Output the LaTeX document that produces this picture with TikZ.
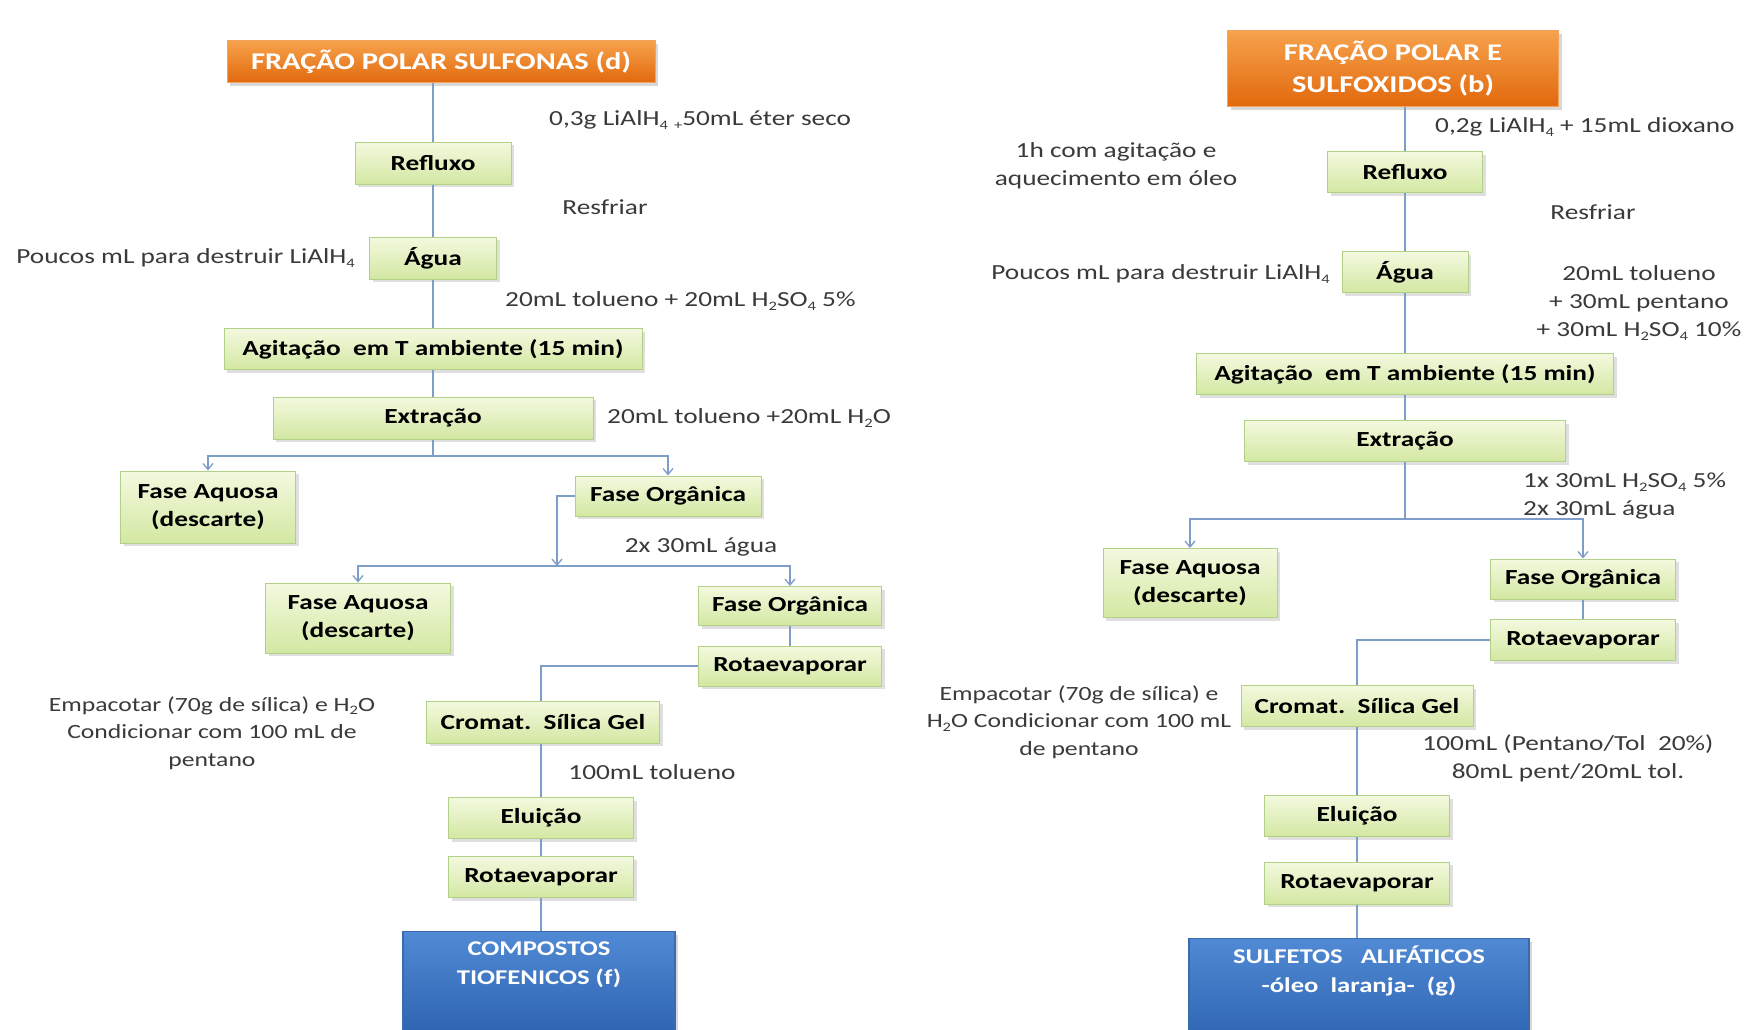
\documentclass[tikz,border=0pt]{standalone}
\usepackage{fontspec}
\setmainfont{Carlito}[FakeStretch=1.27]
\usetikzlibrary{arrows.meta,shadows}

\definecolor{gtop}{HTML}{F3F9DF}
\definecolor{gbot}{HTML}{D3E8A2}
\definecolor{gline}{HTML}{B3D089}
\definecolor{otop}{HTML}{F6A24C}
\definecolor{obot}{HTML}{E2680C}
\definecolor{oline}{HTML}{F1A45E}
\definecolor{btop}{HTML}{5089D4}
\definecolor{bbot}{HTML}{2C62B0}
\definecolor{bline}{HTML}{3A6BAE}
\definecolor{linkc}{HTML}{7F9DC9}
\definecolor{notec}{HTML}{3A3A3A}

% lowered small index for chemical formulas
\newcommand\chemidx[1]{\raisebox{-0.35ex}{\fontsize{13}{13}\selectfont #1}}

\begin{document}
\begin{tikzpicture}[x=1pt,y=-1pt,
  font=\fontsize{21.5}{28}\selectfont,
  gbox/.style={draw=gline, line width=1pt, top color=gtop, bottom color=gbot,
    inner sep=0pt, align=center, text=black, font=\fontsize{21.5}{28}\selectfont\bfseries,
    drop shadow={shadow xshift=3pt, shadow yshift=-3pt, opacity=0.25}},
  obox/.style={draw=oline, line width=1pt, top color=otop, bottom color=obot,
    inner sep=0pt, align=center, text=white, font=\fontsize{24}{32}\selectfont\bfseries,
    drop shadow={shadow xshift=3pt, shadow yshift=-3pt, opacity=0.3}},
  bbox/.style={draw=bline, line width=1.2pt, top color=btop, bottom color=bbot,
    inner sep=0pt, drop shadow={shadow xshift=3pt, shadow yshift=-3pt, opacity=0.3}},
  btext/.style={text=white, align=center, inner sep=0pt, font=\fontsize{21}{29}\selectfont\bfseries},
  note/.style={text=notec, align=center, inner sep=0pt},
  packnote/.style={note, font=\fontsize{20.2}{27.3}\selectfont},
  link/.style={draw=linkc, line width=1.3pt},
  arr/.style={link, -{Straight Barb[length=6pt,width=10pt]}}]

\useasboundingbox (0,0) rectangle (1747,1030);
\fill[white] (0,0) rectangle (1747,1030);

% ---------------- left flow: sulfonas ----------------
\node[obox, minimum width=428, minimum height=42] (t1) at (441,62) {FRAÇÃO POLAR SULFONAS (d)};
\node[note, anchor=west] (n1) at (549,120) {0,3g LiAlH\chemidx{4} \chemidx{+}50mL éter seco};
\node[gbox, minimum width=156, minimum height=42] (ref1) at (433,163) {Refluxo};
\node[note] (res1) at (605,207) {Resfriar};
\node[note, anchor=east] (pou1) at (355,258) {Poucos mL para destruir LiAlH\chemidx{4}};
\node[gbox, minimum width=127, minimum height=42] (agu1) at (433,258) {Água};
\node[note, anchor=west] (tol1) at (505,301) {20mL tolueno + 20mL H\chemidx{2}SO\chemidx{4} 5\%};
\node[gbox, minimum width=418, minimum height=41] (agi1) at (433,349) {Agitação\ \ em T ambiente (15 min)};
\node[gbox, minimum width=320, minimum height=42] (ext1) at (433,418) {Extração};
\node[note, anchor=west] (tol1b) at (607,418) {20mL tolueno +20mL H\chemidx{2}O};
\coordinate (b1) at (433,456);
\node[gbox, minimum width=175, minimum height=72] (fa1) at (208,507) {Fase Aquosa\\(descarte)};
\node[gbox, minimum width=186, minimum height=40] (fo1) at (668,496) {Fase Orgânica};
\coordinate (b2) at (557,566);
\node[note] (wash1) at (701,547) {2x 30mL água};
\node[gbox, minimum width=185, minimum height=70] (fa2) at (358,618) {Fase Aquosa\\(descarte)};
\node[gbox, minimum width=183, minimum height=39] (fo2) at (790,606) {Fase Orgânica};
\node[gbox, minimum width=183, minimum height=40] (rot1) at (790,666) {Rotaevaporar};
\node[gbox, minimum width=233, minimum height=42] (crom1) at (543,722) {Cromat.\ \ Sílica Gel};
\node[packnote] (emp1) at (212,733) {Empacotar (70g de sílica) e H\chemidx{2}O\\Condicionar com 100 mL de\\pentano};
\node[note] (elu1t) at (652,772) {100mL tolueno};
\node[gbox, minimum width=185, minimum height=41] (elu1) at (541,818) {Eluição};
\node[gbox, minimum width=185, minimum height=41] (rot1b) at (541,877) {Rotaevaporar};
\node[bbox, minimum width=272, minimum height=110, anchor=north] (blue1) at (539,931) {};
\node[btext] (blue1t) at (539,965) {COMPOSTOS\\TIOFENICOS (f)};

\draw[link] (ref1.north) -- (ref1.north |- t1.south);
\draw[link] (ref1) -- (agu1);
\draw[link] (agu1) -- (agi1);
\draw[link] (agi1) -- (ext1);
\draw[link] (ext1.south) -- (b1);
\draw[arr] (b1) -| (fa1.north);
\draw[arr] (b1) -| (fo1.north);
\draw[arr] (fo1.west) -| (b2);
\draw[arr] (b2) -| (fa2.north);
\draw[arr] (b2) -| (fo2.north);
\draw[link] (fo2) -- (rot1);
\draw[link] (rot1.west) -| (elu1.north |- crom1.north);
\draw[link] (elu1.north |- crom1.south) -- (elu1.north);
\draw[link] (elu1) -- (rot1b);
\draw[link] (rot1b.south) -- (rot1b.south |- blue1.north);

% ---------------- right flow: sulfoxidos ----------------
\node[obox, minimum width=331, minimum height=76] (t2) at (1393,69) {FRAÇÃO POLAR E\\SULFOXIDOS (b)};
\node[note, anchor=west] (n2) at (1435,127) {0,2g LiAlH\chemidx{4} + 15mL dioxano};
\node[note] (h2) at (1116,166) {1h com agitação e\\aquecimento em óleo};
\node[gbox, minimum width=155, minimum height=41] (ref2) at (1405,172) {Refluxo};
\node[note] (res2) at (1593,212) {Resfriar};
\node[note, anchor=east] (pou2) at (1330,274) {Poucos mL para destruir LiAlH\chemidx{4}};
\node[gbox, minimum width=126, minimum height=41] (agu2) at (1405,272) {Água};
\node[note] (tol2) at (1639,303) {20mL tolueno\\+ 30mL pentano\\+ 30mL H\chemidx{2}SO\chemidx{4} 10\%};
\node[gbox, minimum width=417, minimum height=41] (agi2) at (1405,374) {Agitação\ \ em T ambiente (15 min)};
\node[gbox, minimum width=321, minimum height=41] (ext2) at (1405,441) {Extração};
\node[note, anchor=west, align=left] (wash2) at (1523,496) {1x 30mL H\chemidx{2}SO\chemidx{4} 5\%\\2x 30mL água};
\coordinate (b3) at (1405,519);
\node[gbox, minimum width=174, minimum height=69] (fa3) at (1190,583) {Fase Aquosa\\(descarte)};
\node[gbox, minimum width=185, minimum height=40] (fo3) at (1583,579) {Fase Orgânica};
\node[gbox, minimum width=185, minimum height=41] (rot3) at (1583,640) {Rotaevaporar};
\node[gbox, minimum width=232, minimum height=41] (crom3) at (1357,706) {Cromat.\ \ Sílica Gel};
\node[packnote] (emp2) at (1079,722) {Empacotar (70g de sílica) e\\H\chemidx{2}O Condicionar com 100 mL\\de pentano};
\node[note] (elu3t) at (1568,758) {100mL (Pentano/Tol\ \ 20\%)\\80mL pent/20mL tol.};
\node[gbox, minimum width=185, minimum height=41] (elu3) at (1357,816) {Eluição};
\node[gbox, minimum width=185, minimum height=42] (rot3b) at (1357,883) {Rotaevaporar};
\node[bbox, minimum width=340, minimum height=110, anchor=north] (blue2) at (1359,938) {};
\node[btext] (blue2t) at (1359,971) {SULFETOS\ \ \ ALIFÁTICOS\\-óleo\ \ laranja-\ \ (g)};

\draw[link] (ref2.north) -- (ref2.north |- t2.south);
\draw[link] (ref2) -- (agu2);
\draw[link] (agu2) -- (agi2);
\draw[link] (agi2) -- (ext2);
\draw[link] (ext2.south) -- (b3);
\draw[arr] (b3) -| (fa3.north);
\draw[arr] (b3) -| (fo3.north);
\draw[link] (fo3) -- (rot3);
\draw[link] (rot3.west) -| (crom3.north);
\draw[link] (crom3) -- (elu3);
\draw[link] (elu3) -- (rot3b);
\draw[link] (rot3b.south) -- (rot3b.south |- blue2.north);
\end{tikzpicture}
\end{document}
